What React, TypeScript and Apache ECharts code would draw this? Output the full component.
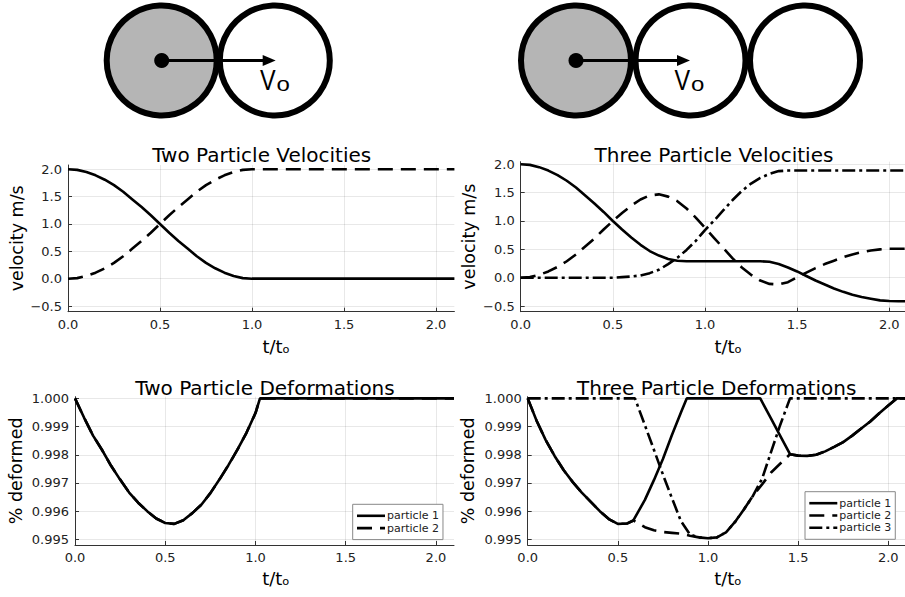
import React, { useEffect, useRef } from "react";
import * as echarts from "echarts";

// ---------- data ----------
const tV2 = [0, 0.05, 0.1, 0.15, 0.2, 0.25, 0.3, 0.35, 0.4, 0.45, 0.5, 0.55, 0.6, 0.65, 0.7, 0.75, 0.8, 0.85, 0.9, 0.95, 1.0, 2.1];
const v2p1 = [2.0, 1.99, 1.95, 1.89, 1.81, 1.71, 1.59, 1.45, 1.31, 1.16, 1.0, 0.84, 0.69, 0.55, 0.41, 0.29, 0.19, 0.11, 0.05, 0.01, 0.0, 0.0];
const v2p2 = [0.0, 0.01, 0.05, 0.11, 0.19, 0.29, 0.41, 0.55, 0.69, 0.84, 1.0, 1.16, 1.31, 1.45, 1.59, 1.71, 1.81, 1.89, 1.95, 1.99, 2.0, 2.0];

const tV3 = [0, 0.05, 0.1, 0.15, 0.2, 0.25, 0.3, 0.35, 0.4, 0.45, 0.5, 0.55, 0.6, 0.65, 0.7, 0.75, 0.8, 0.85, 0.9, 0.95, 1.0, 1.05, 1.1, 1.15, 1.2, 1.25, 1.3, 1.35, 1.4, 1.45, 1.5, 1.55, 1.6, 1.65, 1.7, 1.75, 1.8, 1.85, 1.9, 1.95, 2.0, 2.05, 2.1];
const v3p1 = [2.0, 1.99, 1.95, 1.89, 1.81, 1.71, 1.59, 1.45, 1.31, 1.16, 1.0, 0.85, 0.71, 0.58, 0.47, 0.39, 0.33, 0.30, 0.29, 0.29, 0.29, 0.29, 0.29, 0.29, 0.29, 0.29, 0.29, 0.28, 0.24, 0.18, 0.11, 0.03, -0.05, -0.12, -0.19, -0.25, -0.30, -0.34, -0.37, -0.40, -0.41, -0.415, -0.415];
const v3p2 = [0.0, 0.01, 0.05, 0.11, 0.19, 0.29, 0.41, 0.55, 0.69, 0.85, 1.0, 1.14, 1.27, 1.38, 1.45, 1.47, 1.43, 1.35, 1.22, 1.06, 0.88, 0.70, 0.52, 0.34, 0.18, 0.05, -0.05, -0.11, -0.12, -0.08, 0.01, 0.09, 0.17, 0.24, 0.30, 0.36, 0.41, 0.45, 0.48, 0.50, 0.51, 0.51, 0.51];
const v3p3 = [0, 0, 0, 0, 0, 0, 0, 0, 0, 0, 0, 0.01, 0.02, 0.04, 0.08, 0.14, 0.24, 0.35, 0.49, 0.65, 0.84, 1.01, 1.19, 1.37, 1.53, 1.66, 1.76, 1.83, 1.88, 1.89, 1.89, 1.89, 1.89, 1.89, 1.89, 1.89, 1.89, 1.89, 1.89, 1.89, 1.89, 1.89, 1.89];

const tD2 = [0, 0.05, 0.1, 0.15, 0.2, 0.25, 0.3, 0.35, 0.4, 0.45, 0.5, 0.55, 0.6, 0.65, 0.7, 0.75, 0.8, 0.85, 0.9, 0.95, 1.0, 1.025, 2.1];
const d2p1 = [1.0, 0.99932, 0.99868, 0.99817, 0.99761, 0.99712, 0.99666, 0.9963, 0.996, 0.99574, 0.99558, 0.99555, 0.99568, 0.99593, 0.99623, 0.99664, 0.99712, 0.99763, 0.99818, 0.99878, 0.99948, 1.0, 1.0];
const d2p2 = [1.0, 0.99932, 0.99868, 0.99817, 0.99761, 0.99712, 0.99666, 0.9963, 0.996, 0.99574, 0.99558, 0.99555, 0.99568, 0.99593, 0.99623, 0.99664, 0.99712, 0.99763, 0.99818, 0.99878, 0.99948, 1.0, 1.0];

const tD3p1 = [0, 0.05, 0.1, 0.15, 0.2, 0.25, 0.3, 0.35, 0.4, 0.45, 0.5, 0.55, 0.586, 0.65, 0.7, 0.75, 0.8, 0.85, 0.882, 1.29, 1.35, 1.4, 1.455, 1.5, 1.55, 1.6, 1.65, 1.7, 1.75, 1.8, 1.85, 1.9, 1.95, 2.0, 2.047, 2.1];
const d3p1 = [1.0, 0.9992, 0.99852, 0.99795, 0.99745, 0.99703, 0.99666, 0.99633, 0.996, 0.99572, 0.99555, 0.99556, 0.99567, 0.9964, 0.9971, 0.99785, 0.9987, 0.9995, 1.0, 1.0, 0.99928, 0.99868, 0.99802, 0.99797, 0.99796, 0.998, 0.99812, 0.99828, 0.99845, 0.99868, 0.99893, 0.99918, 0.99947, 0.99975, 1.0, 1.0];
const tD3p2 = [0, 0.05, 0.1, 0.15, 0.2, 0.25, 0.3, 0.35, 0.4, 0.45, 0.5, 0.55, 0.586, 0.65, 0.7, 0.75, 0.8, 0.85, 0.9, 0.95, 1.0, 1.05, 1.1, 1.15, 1.2, 1.25, 1.3, 1.35, 1.4, 1.455, 1.5, 1.55, 1.6, 1.65, 1.7, 1.75, 1.8, 1.85, 1.9, 1.95, 2.0, 2.047, 2.1];
const d3p2 = [1.0, 0.9992, 0.99852, 0.99795, 0.99745, 0.99703, 0.99666, 0.99633, 0.996, 0.99572, 0.99555, 0.99556, 0.99567, 0.99543, 0.99532, 0.99526, 0.99523, 0.9952, 0.99513, 0.99507, 0.99504, 0.99507, 0.99525, 0.99562, 0.99607, 0.99655, 0.99695, 0.99737, 0.99768, 0.99802, 0.99797, 0.99796, 0.998, 0.99812, 0.99828, 0.99845, 0.99868, 0.99893, 0.99918, 0.99947, 0.99975, 1.0, 1.0];
const tD3p3 = [0, 0.595, 0.65, 0.7, 0.75, 0.8, 0.85, 0.9, 0.95, 1.0, 1.05, 1.1, 1.15, 1.2, 1.25, 1.3, 1.35, 1.4, 1.455, 2.1];
const d3p3 = [1.0, 1.0, 0.99905, 0.99818, 0.9973, 0.99646, 0.99565, 0.99517, 0.99507, 0.99504, 0.99507, 0.99525, 0.99562, 0.99607, 0.99655, 0.99715, 0.9981, 0.99905, 1.0, 1.0];

const xTicks = [0, 0.5, 1.0, 1.5, 2.0];
const velTicks = [-0.5, 0, 0.5, 1.0, 1.5, 2.0];
const defTicks = [0.995, 0.996, 0.997, 0.998, 0.999, 1.0];
const legend2 = ["particle 1", "particle 2"];
const legend3 = ["particle 1", "particle 2", "particle 3"];

const FONT = "DejaVu Sans";
const SOLID = "solid";
const DASH = [15, 8];
const DASHDOT = [13, 4, 3, 4];

function fmt(d: number) {
  return (v: number) => (v < 0 ? "\u2212" + Math.abs(v).toFixed(d) : v.toFixed(d));
}

function line(name: string, idx: number, ts: number[], vs: number[], dash: any) {
  return {
    type: "line",
    name,
    xAxisIndex: idx,
    yAxisIndex: idx,
    data: ts.map((t, i) => [t, vs[i]]),
    symbol: "none",
    showSymbol: false,
    silent: true,
    clip: true,
    lineStyle: { color: "#000", width: 2.6, type: dash },
    itemStyle: { color: "#000" },
    emphasis: { disabled: true },
  };
}

function xAxis(gridIndex: number, nameShift: number, nameGap: number) {
  return {
    type: "value",
    gridIndex,
    min: 0,
    max: 2.1,
    name: "t/t\u2092",
    nameLocation: "middle",
    nameGap,
    nameTextStyle: { fontSize: 18, fontFamily: FONT, color: "#000", padding: [0, 0, 0, nameShift] },
    axisLine: { show: true, onZero: false, lineStyle: { color: "#333", width: 1 } },
    axisTick: { show: true, inside: true, length: 4, customValues: xTicks, lineStyle: { color: "#333" } },
    axisLabel: { customValues: xTicks, formatter: fmt(1), fontSize: 13, fontFamily: FONT, color: "#222", margin: 6 },
    splitLine: { show: true, lineStyle: { color: "rgba(0,0,0,0.09)", width: 1 } },
  };
}

function yAxis(gridIndex: number, min: number, max: number, name: string, ticks: number[], dec: number, nameGap: number) {
  return {
    type: "value",
    gridIndex,
    min,
    max,
    name,
    nameLocation: "middle",
    nameGap,
    nameTextStyle: { fontSize: 17.5, fontFamily: FONT, color: "#000" },
    axisLine: { show: true, onZero: false, lineStyle: { color: "#333", width: 1 } },
    axisTick: { show: true, inside: true, length: 4, customValues: ticks, lineStyle: { color: "#333" } },
    axisLabel: { customValues: ticks, formatter: fmt(dec), fontSize: 13, fontFamily: FONT, color: "#222", margin: 6 },
    splitLine: { show: true, lineStyle: { color: "rgba(0,0,0,0.09)", width: 1 } },
  };
}

function legend(data: string[], left: number, top: number) {
  return {
    data,
    left,
    top,
    orient: "vertical",
    itemWidth: 28,
    itemHeight: 11,
    itemGap: 1.3,
    padding: [6, 4, 6, 3],
    borderColor: "#888",
    borderWidth: 1,
    backgroundColor: "#fff",
    selectedMode: false,
    itemStyle: { color: "rgba(0,0,0,0)", borderWidth: 0, opacity: 0 },
    lineStyle: { width: 2.6 },
    textStyle: { fontSize: 11, fontFamily: FONT, color: "#222", padding: [0, 0, 0, -3] },
  };
}

function particles(cxs: number[], cy: number, r: number, vx: number, ox: number) {
  const els: any[] = [];
  cxs.forEach((cx, i) => {
    els.push({
      type: "circle",
      shape: { cx, cy, r },
      style: { fill: i === 0 ? "#b5b5b5" : "#fff", stroke: "#000", lineWidth: 6 },
      z: 1,
    });
  });
  const c0 = cxs[0];
  els.push({ type: "line", shape: { x1: c0, y1: cy, x2: c0 + 104, y2: cy }, style: { stroke: "#000", lineWidth: 3 }, z: 2 });
  els.push({ type: "polygon", shape: { points: [[c0 + 101, cy - 5.5], [c0 + 114, cy], [c0 + 101, cy + 5.5]] }, style: { fill: "#000" }, z: 2 });
  els.push({ type: "circle", shape: { cx: c0, cy, r: 7.5 }, style: { fill: "#000" }, z: 2 });
  els.push({
    type: "text", x: vx, y: 79.5, scaleX: 0.78, z: 3,
    style: { text: "V", fontSize: 30, fontFamily: "Liberation Sans", fill: "#000", align: "left", verticalAlign: "middle" },
  });
  els.push({
    type: "text", x: ox, y: 84.5, scaleX: 1.2, z: 3,
    style: { text: "o", fontSize: 20, fontFamily: "Liberation Sans", fill: "#000", align: "left", verticalAlign: "middle" },
  });
  return els;
}

function title(text: string, x: number, y: number) {
  return {
    type: "text", x, y, z: 5,
    style: { text, fontSize: 20, fontFamily: FONT, fill: "#000", align: "center", verticalAlign: "middle" },
  };
}

export default function App() {
  const ref = useRef<HTMLDivElement>(null);
  useEffect(() => {
    const chart = echarts.init(ref.current!, null, { renderer: "svg" });
    const option: any = {
      animation: false,
      backgroundColor: "#fff",
      textStyle: { fontFamily: FONT },
      grid: [
        { left: 68, right: 450.6, top: 165, bottom: 285.3, containLabel: false, outerBoundsMode: "none" },
        { left: 520.7, right: -2.7, top: 161.7, bottom: 285.3, containLabel: false, outerBoundsMode: "none" },
        { left: 75, right: 451, top: 396.7, bottom: 52, containLabel: false, outerBoundsMode: "none" },
        { left: 527.7, right: -1.3, top: 396.7, bottom: 52, containLabel: false, outerBoundsMode: "none" },
      ],
      xAxis: [xAxis(0, 30, 26), xAxis(1, 28, 26), xAxis(2, 23, 24), xAxis(3, 22, 24)],
      yAxis: [
        yAxis(0, -0.604, 2.079, "velocity m/s", velTicks, 1, 42.5),
        yAxis(1, -0.6, 2.046, "velocity m/s", velTicks, 1, 43),
        yAxis(2, 0.9948, 1.00006, "% deformed", defTicks, 3, 50.2),
        yAxis(3, 0.9948, 1.00006, "% deformed", defTicks, 3, 50.7),
      ],
      legend: [legend(legend2, 352.7, 504.3), legend(legend3, 805, 491.7)],
      series: [
        line("v2 particle 1", 0, tV2, v2p1, SOLID),
        line("v2 particle 2", 0, tV2, v2p2, DASH),
        line("v3 particle 1", 1, tV3, v3p1, SOLID),
        line("v3 particle 2", 1, tV3, v3p2, DASH),
        line("v3 particle 3", 1, tV3, v3p3, DASHDOT),
        line("particle 1", 2, tD2, d2p1, SOLID),
        line("particle 2", 2, tD2, d2p2, DASH),
        line("particle 1", 3, tD3p1, d3p1, SOLID),
        line("particle 2", 3, tD3p2, d3p2, DASH),
        line("particle 3", 3, tD3p3, d3p3, DASHDOT),
      ],
      graphic: [
        ...particles([161.7, 274.8], 60.5, 55, 260, 276.5),
        ...particles([576, 690.5, 805], 60.5, 55, 674.5, 691),
        title("Two Particle Velocities", 261.7, 154.5),
        title("Three Particle Velocities", 714, 154.5),
        title("Two Particle Deformations", 265, 387.5),
        title("Three Particle Deformations", 716.7, 387.5),
      ],
    };
    chart.setOption(option);
    return () => chart.dispose();
  }, []);
  return (
    <div
      ref={ref}
      style={{ position: "fixed", left: 0, top: 0, width: 905, height: 597, background: "#fff" }}
    />
  );
}
